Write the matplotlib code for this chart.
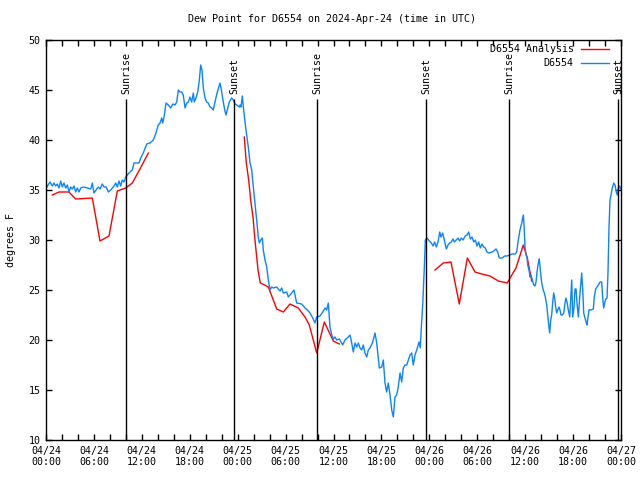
import matplotlib
matplotlib.use("Agg")
import matplotlib.pyplot as plt
from matplotlib.lines import Line2D

# ---------------- data ----------------
# hours since 2024-04-24 00:00 UTC
obs_hours = [
    0.13, 0.25, 0.50, 0.79, 1.00, 1.21, 1.41, 1.63, 1.84, 2.04, 2.25, 2.47, 2.67, 2.88, 3.09, 3.29,
    3.51, 3.72, 3.92, 4.13, 4.35, 4.67, 5.17, 5.60, 5.80, 6.01, 6.35, 6.55, 6.76, 7.05, 7.26, 7.55,
    7.80, 8.10, 8.52, 8.73, 8.93, 9.14, 9.35, 9.55, 9.77, 9.98, 10.39, 10.81, 11.02, 11.65, 11.86, 12.18,
    12.61, 13.02, 13.44, 13.77, 14.06, 14.28, 14.49, 14.61, 14.78, 15.03, 15.31, 15.61, 15.87, 16.15,
    16.37, 16.57, 16.78, 16.99, 17.19, 17.41, 17.62, 17.82, 18.03, 18.24, 18.45, 18.57, 18.78, 19.00,
    19.20, 19.37, 19.53, 19.70, 19.91, 20.12, 20.32, 20.54, 20.75, 20.95, 21.16, 21.45, 21.79, 22.00,
    22.20, 22.41, 22.54, 22.70, 22.95, 23.25, 23.45, 23.67, 23.88, 24.21, 24.29, 24.42, 24.58, 24.79,
    25.04, 25.33, 25.55, 25.76, 25.96, 26.17, 26.38, 26.58, 26.71, 26.89, 27.09, 27.21, 27.42, 27.64,
    27.84, 28.05, 28.26, 28.46, 28.89, 29.30, 29.51, 29.72, 30.14, 30.34, 30.77, 31.05, 31.39, 32.02,
    32.43, 32.72, 33.06, 33.40, 33.68, 33.90, 34.31, 34.65, 34.94, 35.15, 35.35, 35.56, 35.78, 35.98,
    36.19, 36.40, 36.73, 37.15, 37.44, 37.85, 38.07, 38.28, 38.48, 38.69, 38.91, 39.11, 39.32, 39.53,
    39.73, 39.94, 40.16, 40.36, 40.57, 40.91, 41.20, 41.41, 41.74, 42.04, 42.24, 42.45, 42.66, 42.86,
    43.08, 43.29, 43.49, 43.70, 43.91, 44.11, 44.33, 44.54, 44.74, 44.95, 45.17, 45.37, 45.58, 45.79,
    45.99, 46.21, 46.42, 46.71, 46.87, 47.00, 47.17, 47.37, 47.50, 47.71, 48.00, 48.25, 48.46, 48.67,
    48.87, 49.09, 49.30, 49.46, 49.67, 49.88, 50.13, 50.34, 50.55, 50.75, 50.96, 51.13, 51.38, 51.59,
    51.80, 52.00, 52.22, 52.50, 52.72, 52.93, 53.13, 53.34, 53.56, 53.76, 53.97, 54.18, 54.38, 54.60,
    54.81, 55.01, 55.22, 55.43, 55.85, 56.06, 56.35, 56.56, 56.76, 57.10, 57.44, 57.73, 58.07, 58.36,
    58.77, 58.94, 59.14, 59.35, 59.57, 59.69, 59.77, 59.86, 59.98, 60.11, 60.23, 60.32, 60.48, 60.61,
    60.73, 60.90, 61.07, 61.23, 61.36, 61.48, 61.65, 61.77, 61.90, 62.07, 62.27, 62.40, 62.52, 62.70,
    62.82, 62.95, 63.07, 63.20, 63.32, 63.45, 63.57, 63.70, 63.82, 63.95, 64.07, 64.24, 64.36, 64.49,
    64.65, 64.83, 64.99, 65.11, 65.24, 65.40, 65.58, 65.70, 65.83, 65.95, 66.12, 66.24, 66.37, 66.49,
    66.66, 66.83, 66.96, 67.08, 67.21, 67.33, 67.49, 67.62, 67.74, 67.87, 67.99, 68.24, 68.53, 68.66,
    68.83, 68.99, 69.16, 69.37, 69.58, 69.71, 69.83, 69.96, 70.09, 70.25, 70.37, 70.50, 70.62, 70.75,
    70.91, 71.09, 71.25, 71.41, 71.54, 71.66, 71.84, 71.96,
]
obs_dewpt = [
    35.3, 35.5, 35.8, 35.4, 35.7, 35.4, 35.6, 35.2, 35.9, 35.3, 35.7, 35.2, 35.5, 34.8, 35.3, 35.1,
    35.4, 34.8, 35.2, 34.8, 35.2, 35.3, 35.2, 35.1, 35.7, 34.7, 35.1, 35.3, 35.1, 35.6, 35.3, 35.3,
    34.8, 35.0, 35.4, 35.7, 35.3, 35.9, 35.4, 36.0, 35.8, 36.3, 36.7, 37.0, 37.7, 37.7, 38.2, 38.7,
    39.6, 39.7, 40.0, 40.7, 41.5, 41.7, 42.2, 41.7, 42.3, 43.7, 43.5, 43.2, 43.6, 43.5,
    43.8, 45.0, 44.8, 44.8, 44.5, 43.2, 43.7, 43.8, 44.3, 43.8, 44.7, 43.8, 44.2, 44.8,
    46.0, 47.5, 47.0, 45.2, 44.2, 43.8, 43.7, 43.3, 43.2, 43.0, 43.8, 44.8, 45.7, 44.8,
    43.8, 42.9, 42.5, 43.0, 43.8, 44.2, 44.0, 43.6, 43.5, 43.3, 43.5, 43.3, 44.4, 42.7,
    41.0, 39.3, 37.7, 37.0, 35.3, 33.7, 32.0, 30.3, 29.7, 30.0, 30.2, 29.0, 28.0, 27.3,
    26.0, 25.0, 25.3, 25.2, 25.3, 24.9, 25.2, 24.7, 24.8, 24.3, 24.7, 25.0, 23.7, 23.6,
    23.2, 23.0, 22.7, 22.2, 21.7, 22.3, 22.4, 22.8, 23.2, 23.0, 23.7, 21.3, 20.5, 20.1,
    20.3, 20.0, 20.1, 19.5, 20.0, 20.3, 20.5, 19.7, 18.8, 19.7, 19.3, 19.7, 19.2, 19.0,
    19.5, 18.7, 18.3, 19.0, 19.2, 19.8, 20.7, 19.7, 17.2, 17.3, 18.0, 15.7, 14.8, 15.7,
    14.5, 13.0, 12.3, 14.3, 14.5, 15.3, 16.7, 15.8, 17.2, 17.5, 17.5, 18.0, 18.5, 18.7,
    17.5, 18.5, 19.0, 19.8, 19.2, 21.3, 23.5, 27.2, 30.0, 30.2, 29.9, 29.7, 29.4, 29.8,
    29.3, 29.8, 30.8, 30.3, 30.7, 30.0, 29.1, 29.5, 29.7, 29.8, 30.1, 29.8, 30.0, 30.2,
    29.9, 30.2, 30.0, 30.4, 30.5, 30.8, 30.1, 30.3, 29.8, 30.0, 29.4, 29.8, 29.2, 29.6,
    29.3, 29.2, 28.8, 28.7, 28.8, 28.9, 29.1, 28.8, 28.2, 28.2, 28.4, 28.4, 28.5, 28.6,
    28.6, 28.8, 30.0, 31.0, 31.7, 32.2, 32.5, 31.5, 29.3, 28.5, 28.3, 27.5, 27.0, 26.3,
    26.5, 26.0, 25.5, 25.4, 25.8, 26.8, 27.7, 28.1, 27.0, 25.7, 25.0, 24.7, 24.3, 23.5,
    22.5, 21.5, 20.7, 22.0, 22.5, 23.8, 24.7, 24.2, 23.3, 22.7, 23.0, 23.3, 23.0, 22.5,
    22.5, 22.7, 23.7, 24.2, 23.8, 23.0, 22.3, 24.0, 26.0, 22.3, 23.3, 25.1, 25.1, 23.7,
    22.3, 24.3, 25.5, 26.7, 25.0, 22.7, 22.2, 21.8, 21.5, 22.3, 23.0, 23.0, 23.1, 24.3,
    25.1, 25.3, 25.5, 25.8, 25.8, 24.2, 23.2, 23.7, 24.1, 24.2, 26.7, 31.3, 34.0, 34.5,
    35.2, 35.7, 35.5, 34.8, 34.5, 35.2, 35.4, 35.1,
]

# analysis (three separate segments)
ana1_hours = [0.79, 1.63, 2.88, 3.72, 5.80, 6.76, 7.89, 8.93, 9.98, 10.81, 11.77, 12.81]
ana1_dewpt = [34.5, 34.8, 34.8, 34.1, 34.2, 29.9, 30.4, 34.9, 35.2, 35.7, 37.1, 38.7]
ana2_hours = [24.83, 25.08, 25.38, 25.63, 25.92, 26.13, 26.33, 26.55, 26.83, 27.39, 27.84, 28.89,
              29.72, 30.55, 31.59, 32.43, 32.97, 33.90, 34.85, 35.98, 36.73]
ana2_dewpt = [40.3, 37.7, 36.0, 34.0, 32.3, 30.3, 28.7, 27.0, 25.7, 25.5, 25.3, 23.1,
              22.8, 23.6, 23.2, 22.3, 21.5, 18.7, 21.8, 19.9, 19.6]
ana3_hours = [48.71, 49.75, 50.71, 51.75, 52.76, 53.72, 54.56, 55.60, 56.64, 57.77, 58.11, 58.85,
              59.77, 60.27, 60.82]
ana3_dewpt = [27.0, 27.7, 27.8, 23.6, 28.2, 26.8, 26.6, 26.4, 25.9, 25.7, 26.2, 27.2,
              29.5, 28.2, 25.9]

sun_hours = [10.02, 23.58, 33.97, 47.58, 58.01, 71.66]
sun_labels = ["Sunrise", "Sunset", "Sunrise", "Sunset", "Sunrise", "Sunset"]

xtick_hours = [0, 6, 12, 18, 24, 30, 36, 42, 48, 54, 60, 66, 72]
xtick_labels = ["04/24\n00:00", "04/24\n06:00", "04/24\n12:00", "04/24\n18:00",
                "04/25\n00:00", "04/25\n06:00", "04/25\n12:00", "04/25\n18:00",
                "04/26\n00:00", "04/26\n06:00", "04/26\n12:00", "04/26\n18:00",
                "04/27\n00:00"]
yticks = [10, 15, 20, 25, 30, 35, 40, 45, 50]

# ---------------- plot ----------------
FONT = "DejaVu Sans Mono"
FS = 7.2
RED = "#ff0000"
BLUE = "#0a84ff"

fig = plt.figure(figsize=(6.4, 4.8), dpi=100)
ax = fig.add_axes([46 / 640, 40 / 480, 575 / 640, 400 / 480])

ax.plot(ana1_hours, ana1_dewpt, color=RED, lw=1.0)
ax.plot(ana2_hours, ana2_dewpt, color=RED, lw=1.0)
ax.plot(ana3_hours, ana3_dewpt, color=RED, lw=1.0)
ax.plot(obs_hours, obs_dewpt, color=BLUE, lw=1.0)

for h, lab in zip(sun_hours, sun_labels):
    ax.vlines(h, 10, 44.1, color="black", lw=1.0)
    ax.text(h, 44.6, lab, rotation=90, ha="center", va="bottom",
            family=FONT, fontsize=FS)

ax.set_xlim(0, 72)
ax.set_ylim(10, 50)
ax.set_xticks(xtick_hours)
ax.set_xticklabels(xtick_labels, family=FONT, fontsize=FS, linespacing=1.15)
ax.set_xticks(list(range(0, 73, 2)), minor=True)
ax.set_yticks(yticks)
ax.set_yticklabels([str(v) for v in yticks], family=FONT, fontsize=FS)
ax.tick_params(which="both", direction="in", top=True, right=True, width=1.0, color="black")
ax.tick_params(which="major", length=4.5, pad=4)
ax.tick_params(which="minor", length=4.5)
for s in ax.spines.values():
    s.set_linewidth(1.0)

ax.set_ylabel("degrees F", family=FONT, fontsize=FS, labelpad=9)
fig.text(332 / 640, 1 - 19 / 480, "Dew Point for D6554 on 2024-Apr-24 (time in UTC)",
         ha="center", va="center", family=FONT, fontsize=FS)

# legend (manual, gnuplot style)
for yf, lab, col in [(0.9775, "D6554 Analysis", RED), (0.9425, "D6554", BLUE)]:
    ax.add_line(Line2D([0.930, 0.979], [yf, yf], color=col, lw=1.0, transform=ax.transAxes))
    ax.text(0.918, yf, lab, ha="right", va="center", transform=ax.transAxes,
            family=FONT, fontsize=FS)

fig.savefig("out.png", dpi=100)
